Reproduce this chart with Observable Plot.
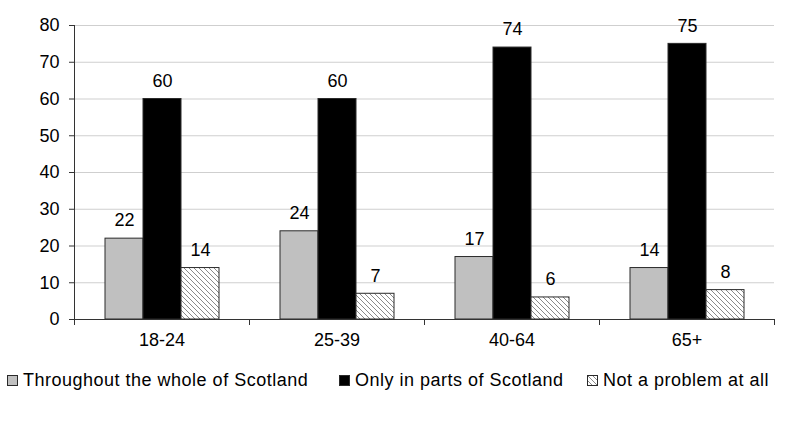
<!DOCTYPE html>
<html><head><meta charset="utf-8">
<script src="https://cdn.jsdelivr.net/npm/d3@7"></script>
<script src="https://cdn.jsdelivr.net/npm/@observablehq/plot@0.6"></script>
<style>
body{margin:0;background:#fff;font-family:"Liberation Sans",Arial,sans-serif;}
#legend{position:relative;height:72px;width:795px;font-size:18px;letter-spacing:0.5px;color:#000;}
.item{position:absolute;top:20px;display:flex;align-items:center;white-space:nowrap;}
.item svg{margin-right:5px;}
</style></head><body>
<svg width="0" height="0" style="position:absolute">
<defs>
<pattern id="hatch" patternUnits="userSpaceOnUse" width="5" height="5">
<rect width="5" height="5" fill="#fff"/>
<path d="M-1,-1 L6,6 M-1,4 L1,6 M4,-1 L6,1" stroke="#8a8a8a" stroke-width="1"/>
</pattern>
</defs>
</svg>
<div id="chart"></div>
<div id="legend"></div>
<script>
const ageGroups = ["18-24","25-39","40-64","65+"];
const seriesNames = ["Throughout the whole of Scotland","Only in parts of Scotland","Not a problem at all"];
const throughoutValues = [22,24,17,14];
const partsValues = [60,60,74,75];
const notProblemValues = [14,7,6,8];
const yTicks = [0,10,20,30,40,50,60,70,80];
const seriesFills = ["#c0c0c0","#000000","url(#hatch)"];

const seriesValues = [throughoutValues, partsValues, notProblemValues];
const data = ageGroups.flatMap((g,i)=>seriesNames.map((s,j)=>({group:g, series:s, value:seriesValues[j][i]})));

const innerH = 350 - 25 - 31;
const chart = Plot.plot({
  width: 795, height: 350,
  marginLeft: 73, marginRight: 20, marginTop: 25, marginBottom: 31,
  style: {fontFamily: '"Liberation Sans", Arial, sans-serif', fontSize: "18px", color: "#000", background: "#fff", overflow: "visible"},
  fx: {domain: ageGroups, padding: 0, label: null},
  x: {domain: seriesNames, paddingInner: 0, paddingOuter: 0.75, axis: null},
  y: {domain: [0,80], label: null},
  color: {domain: seriesNames, range: seriesFills},
  marks: [
    Plot.gridY(yTicks, {stroke: "#cfcfcf", strokeOpacity: 1}),
    Plot.axisY(yTicks, {tickSize: 5, tickPadding: 10, label: null, stroke: "#333"}),
    Plot.axisFx({anchor: "bottom", tickSize: 0, tickPadding: 14, label: null}),
    Plot.barY(data, {fx: "group", x: "series", y: "value", fill: "series", stroke: "#2a2a2a", strokeWidth: 1}),
    Plot.ruleY([0], {stroke: "#333"}),
    Plot.frame({anchor: "left", facetAnchor: "left", stroke: "#333"}),
    Plot.frame({anchor: "left", insetTop: innerH, insetBottom: -5, stroke: "#333"}),
    Plot.frame({anchor: "right", facetAnchor: "right", insetTop: innerH, insetBottom: -5, stroke: "#333"}),
    Plot.text(data, {fx: "group", x: "series", y: "value", text: d => String(d.value), dy: -18, fontSize: 18, fill: "#000"})
  ]
});
document.getElementById("chart").appendChild(chart);

const legendLefts = [7, 339, 587];
const legend = document.getElementById("legend");
seriesNames.forEach((name, i) => {
  const div = document.createElement("div");
  div.className = "item";
  div.style.left = legendLefts[i] + "px";
  div.innerHTML = `<svg width="11" height="11"><rect x="0.5" y="0.5" width="10" height="10" fill="${seriesFills[i]}" stroke="#2a2a2a"/></svg><span>${name}</span>`;
  legend.appendChild(div);
});
</script>
</body></html>
